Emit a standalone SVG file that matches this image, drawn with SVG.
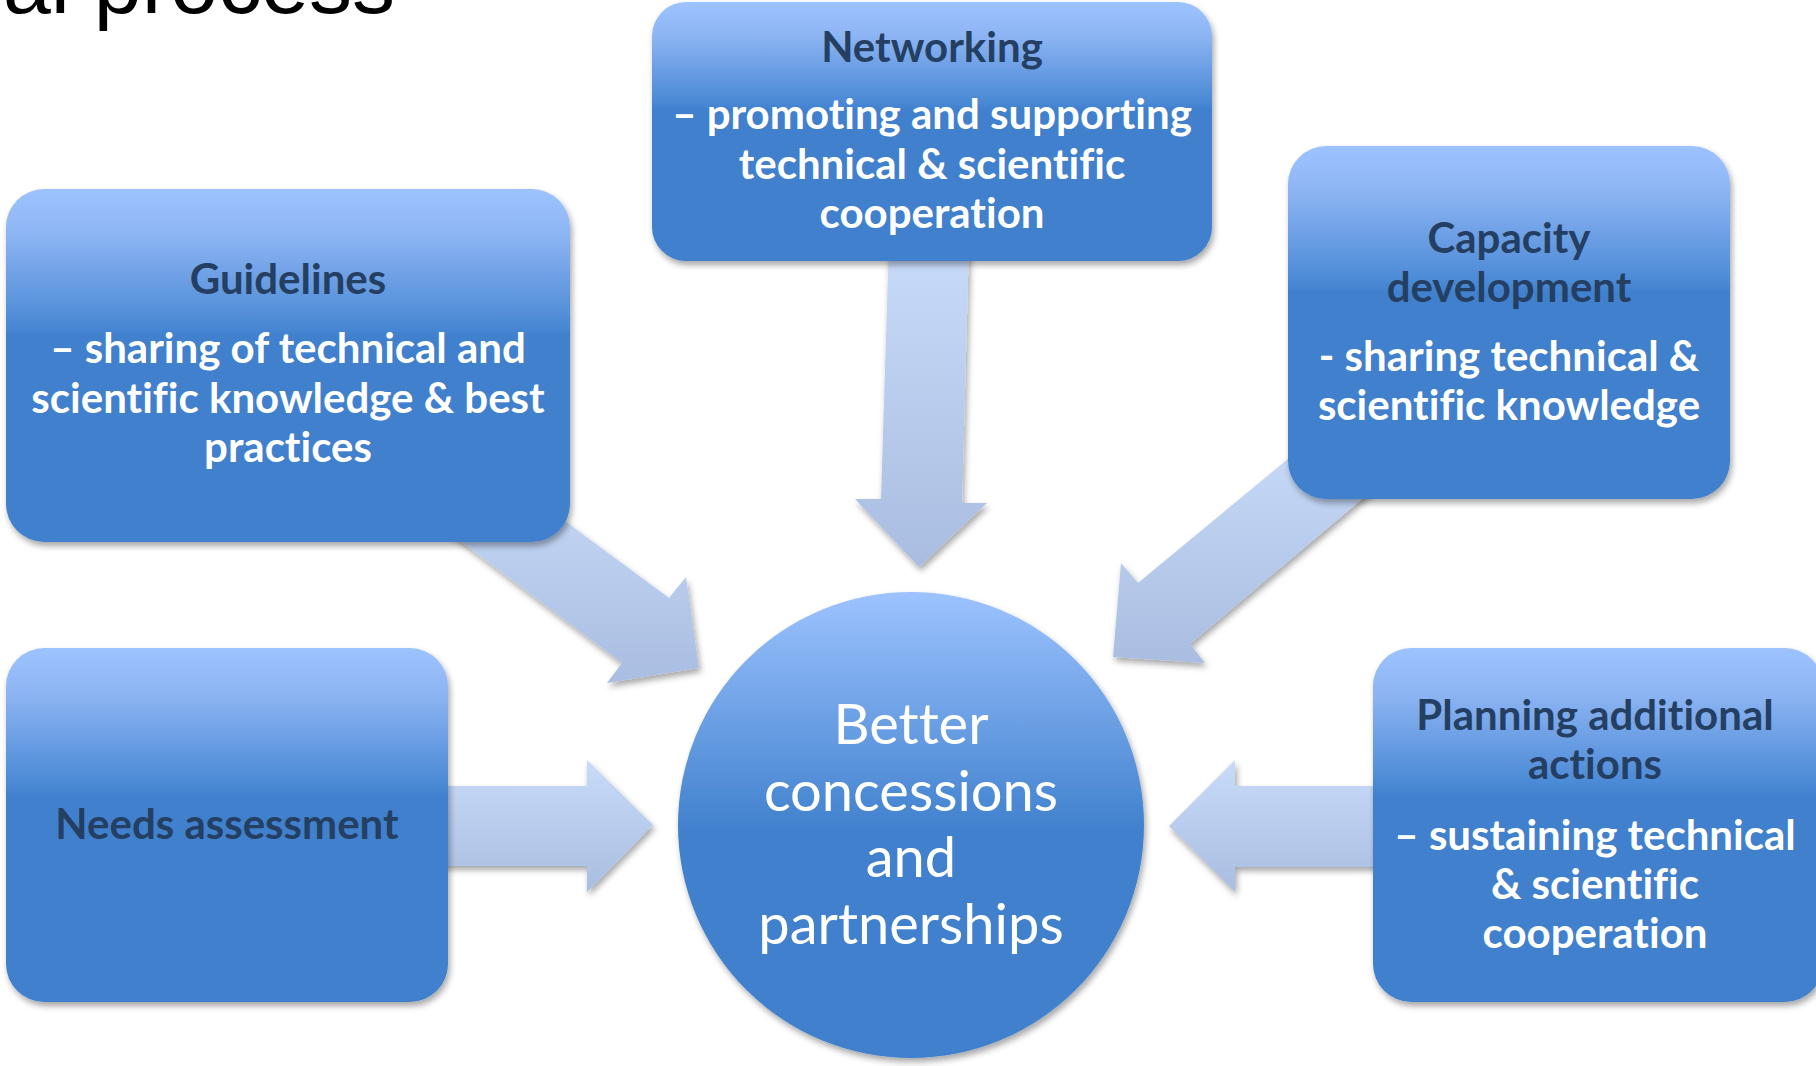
<svg xmlns="http://www.w3.org/2000/svg" width="1816" height="1066" viewBox="0 0 1816 1066">
  <defs>
    <linearGradient id="boxGrad" x1="0" y1="0" x2="0" y2="1">
      <stop offset="0" stop-color="#9dc3ff"/>
      <stop offset="0.12" stop-color="#8fb6f4"/>
      <stop offset="0.38" stop-color="#4c8ad6"/>
      <stop offset="0.42" stop-color="#3f80cd"/>
      <stop offset="1" stop-color="#3f80cd"/>
    </linearGradient>
    <linearGradient id="circGrad" x1="0" y1="0" x2="0" y2="1">
      <stop offset="0" stop-color="#9dc3ff"/>
      <stop offset="0.52" stop-color="#3f80cd"/>
      <stop offset="1" stop-color="#3f80cd"/>
    </linearGradient>
    <linearGradient id="arrowGrad" x1="0" y1="0" x2="0" y2="1">
      <stop offset="0" stop-color="#c8dbf9"/>
      <stop offset="1" stop-color="#a9bde1"/>
    </linearGradient>
    <filter id="shadow" x="-10%" y="-10%" width="125%" height="125%">
      <feDropShadow dx="2" dy="4" stdDeviation="3" flood-color="#000" flood-opacity="0.35"/>
    </filter>
  </defs>
  <style>
    .box { fill: url(#boxGrad); filter: url(#shadow); }
    .arrow { fill: url(#arrowGrad); filter: url(#shadow); }
    text { font-variant-ligatures: none; }
    .head { font-family: Lato, "Open Sans", sans-serif; font-weight: bold; font-size: 42px; fill: #243f62; text-anchor: middle; }
    .sub { font-family: Lato, "Open Sans", sans-serif; font-weight: bold; font-size: 42px; fill: #ffffff; text-anchor: middle; }
    .center { font-family: Lato, "Open Sans", sans-serif; font-size: 56px; fill: #ffffff; text-anchor: middle; }
    .title { font-family: "Liberation Sans", Arial, sans-serif; font-size: 86px; fill: #000000; }
  </style>
  <rect width="1816" height="1066" fill="#ffffff"/>
  <text class="title" x="3" y="13">al process</text>

  <g id="connectors">
    <polygon class="arrow" points="889,240 969,240 962,503 987,503 919,567 855,499 881,499"/>
    <polygon class="arrow" points="485,462 669,598 686,577 699,668 607,683 622,663 415,507"/>
    <polygon class="arrow" points="1318,434 1138,583 1121,563 1113,657 1205,663 1190,644 1388,477"/>
    <polygon class="arrow" points="430,786 587,786 587,760 653,825 587,892 587,866 430,866"/>
    <polygon class="arrow" points="1390,786 1235,786 1235,760 1169,826 1235,892 1235,867 1390,867"/>
  </g>

  <g id="networking">
    <rect class="box" x="652" y="2" width="560" height="259" rx="34"/>
    <text class="head" x="932" y="62">Networking</text>
    <text class="sub" x="932" y="129">– promoting and supporting</text>
    <text class="sub" x="932" y="179">technical &amp; scientific</text>
    <text class="sub" x="932" y="228">cooperation</text>
  </g>

  <g id="guidelines">
    <rect class="box" x="6" y="189" width="564" height="353" rx="38"/>
    <text class="head" x="288" y="294">Guidelines</text>
    <text class="sub" x="288" y="363">– sharing of technical and</text>
    <text class="sub" x="288" y="413">scientific knowledge &amp; best</text>
    <text class="sub" x="288" y="462">practices</text>
  </g>

  <g id="capacity">
    <rect class="box" x="1288" y="146" width="442" height="353" rx="38"/>
    <text class="head" x="1509" y="253">Capacity</text>
    <text class="head" x="1509" y="302">development</text>
    <text class="sub" x="1509" y="371">- sharing technical &amp;</text>
    <text class="sub" x="1509" y="420">scientific knowledge</text>
  </g>

  <g id="needs">
    <rect class="box" x="6" y="648" width="442" height="354" rx="38"/>
    <text class="head" x="227" y="839">Needs assessment</text>
  </g>

  <g id="planning">
    <rect class="box" x="1373" y="648" width="450" height="354" rx="38"/>
    <text class="head" x="1595" y="730">Planning additional</text>
    <text class="head" x="1595" y="779">actions</text>
    <text class="sub" x="1595" y="850">– sustaining technical</text>
    <text class="sub" x="1595" y="899">&amp; scientific</text>
    <text class="sub" x="1595" y="948">cooperation</text>
  </g>

  <g id="center">
    <circle cx="911" cy="825" r="233" fill="url(#circGrad)" filter="url(#shadow)"/>
    <text class="center" x="911" y="744">Better</text>
    <text class="center" x="911" y="811">concessions</text>
    <text class="center" x="911" y="877">and</text>
    <text class="center" x="911" y="944">partnerships</text>
  </g>
</svg>
